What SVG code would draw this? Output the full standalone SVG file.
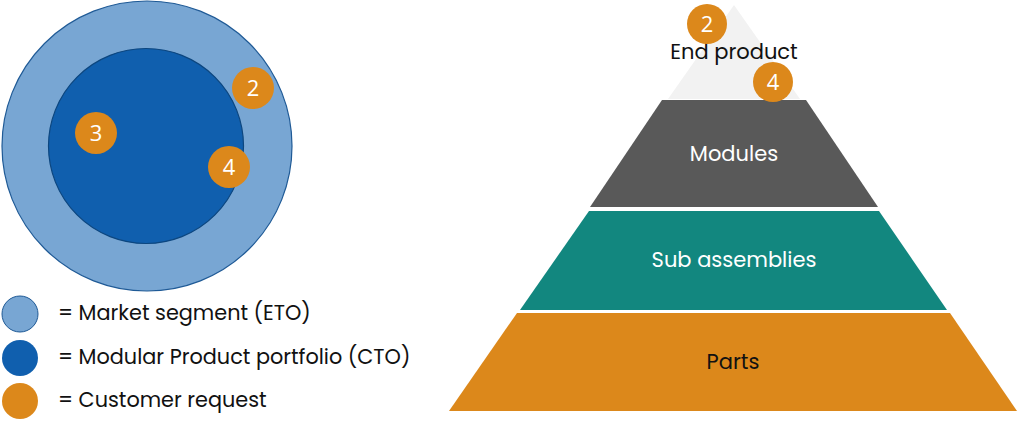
<svg xmlns="http://www.w3.org/2000/svg" width="1024" height="426" viewBox="0 0 1024 426">
<style>
.t{font-family:"Poppins","Open Sans","Liberation Sans",sans-serif;font-size:21px}
.lg{fill:#111;font-size:20.8px}
.num{font-family:"Open Sans","Liberation Sans",sans-serif;font-size:22px;fill:#fff;text-anchor:middle}
.badge{fill:#dc881b}
.c{text-anchor:middle}
</style>
<rect width="1024" height="426" fill="#fff"/>
<g id="venn">
<circle id="outer" cx="147" cy="146" r="145" fill="#78a6d3" stroke="#1f5a96" stroke-width="1.2"/>
<circle id="inner" cx="146" cy="146" r="97.5" fill="#105fae" stroke="#0c467f" stroke-width="1.2"/>
</g>
<g id="badge2a"><circle class="badge" cx="253" cy="88" r="21"/><text class="num" x="253" y="96">2</text></g>
<g id="badge3"><circle class="badge" cx="96" cy="133" r="21"/><text class="num" x="96" y="141">3</text></g>
<g id="badge4a"><circle class="badge" cx="229" cy="167" r="21"/><text class="num" x="229" y="175">4</text></g>
<g id="legend">
<g id="leg1"><circle cx="20" cy="314" r="18" fill="#78a6d3" stroke="#1f5a96" stroke-width="1"/><text class="t lg" x="58" y="320">= Market segment (ETO)</text></g>
<g id="leg2"><circle cx="20" cy="358" r="18" fill="#105fae"/><text class="t lg" x="58" y="364">= Modular Product portfolio (CTO)</text></g>
<g id="leg3"><circle cx="20" cy="401" r="18" fill="#dc881b"/><text class="t lg" x="58" y="407">= Customer request</text></g>
</g>
<g id="pyramid">
<g id="endproduct"><polygon points="734,5 800,99 668,99" fill="#f2f2f2"/><text class="t c" x="734" y="59" fill="#111">End product</text></g>
<g id="modules"><polygon points="662,100 806,100 878,207 590,207" fill="#595959"/><text class="t c" x="734" y="161" fill="#fff">Modules</text></g>
<g id="subassemblies"><polygon points="589,211 879,211 947,310 520,310" fill="#12877f"/><text class="t c" x="734" y="267" fill="#fff">Sub assemblies</text></g>
<g id="parts"><polygon points="517,313 950,313 1017,411 449,411" fill="#dc881b"/><text class="t c" x="733" y="369" fill="#111">Parts</text></g>
</g>
<g id="badge2b"><circle class="badge" cx="707" cy="24" r="20"/><text class="num" x="707" y="32">2</text></g>
<g id="badge4b"><circle class="badge" cx="773" cy="82" r="20"/><text class="num" x="773" y="90">4</text></g>
<g id="connectors"/>
</svg>
